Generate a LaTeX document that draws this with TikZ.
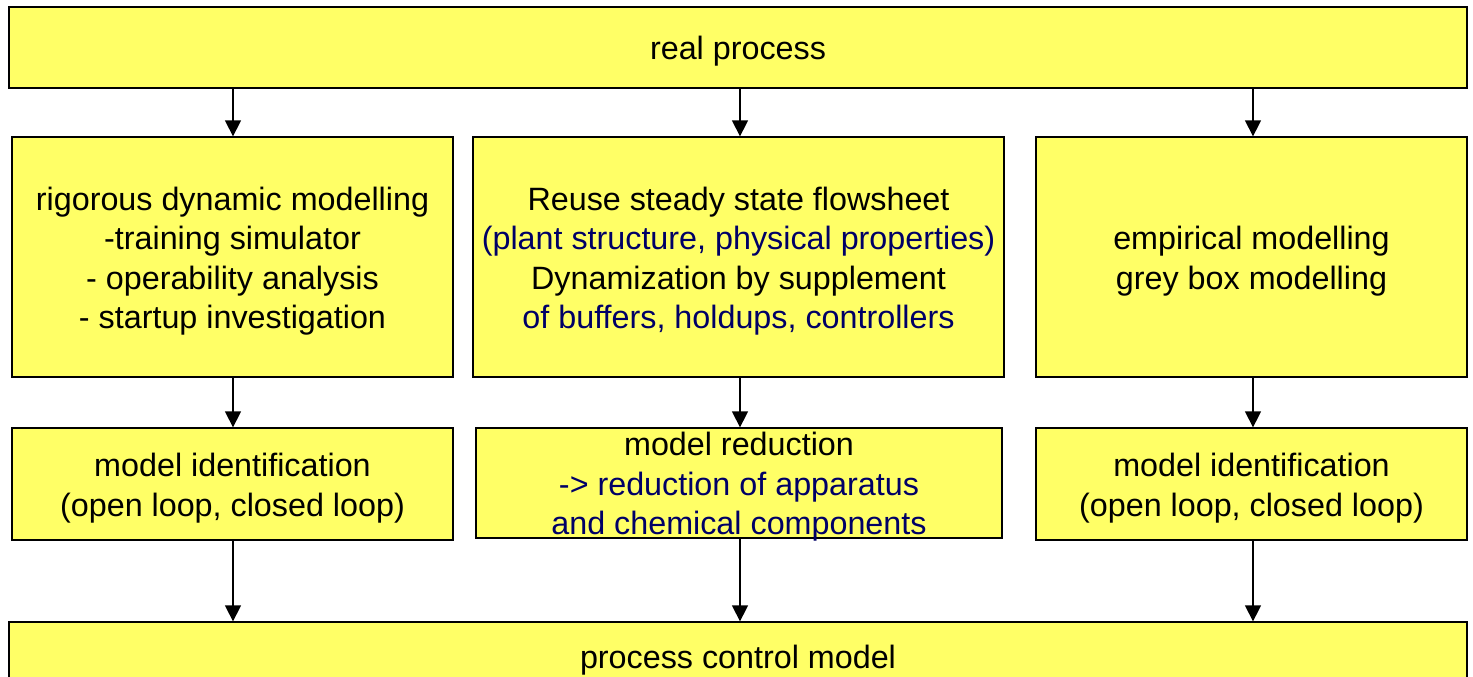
\documentclass[tikz,border=0pt]{standalone}
\usepackage{fontspec}
\setmainfont{Liberation Sans}
\usetikzlibrary{arrows.meta}
\definecolor{boxfill}{HTML}{FFFF66}
\definecolor{navytext}{HTML}{000066}
\tikzset{
  stagebox/.style={draw=black, line width=1.3pt, fill=boxfill, inner sep=0pt},
  boxtext/.style={align=center, inner sep=0pt, yshift=-4pt,
    font=\fontsize{32.3}{39.5}\selectfont},
  flow/.style={line width=1.4pt, -{Triangle[width=16pt,length=16pt]}},
}
\begin{document}
\begin{tikzpicture}[x=1pt, y=-1pt]
\useasboundingbox[fill=white] (0,0) rectangle (1473,677);

% source and sink
\node[stagebox, minimum width=1458pt, minimum height=81pt] (real) at (738,47.5) {};
\node[boxtext] (realtxt) at (real.center) {real process};
\node[stagebox, minimum width=1458pt, minimum height=68pt] (pcm) at (738,656) {};
\node[boxtext] (pcmtxt) at (pcm.center) {process control model};

% modelling approaches
\node[stagebox, minimum width=441pt, minimum height=240pt] (rig) at (232.5,257) {};
\node[boxtext] (rigtxt) at (rig.center)
  {rigorous dynamic modelling\\-training simulator\\- operability analysis\\- startup investigation};
\node[stagebox, minimum width=531pt, minimum height=240pt] (reuse) at (738.5,257) {};
\node[boxtext] (reusetxt) at (reuse.center)
  {Reuse steady state flowsheet\\\textcolor{navytext}{(plant structure, physical properties)}\\Dynamization by supplement\\\textcolor{navytext}{of buffers, holdups, controllers}};
\node[stagebox, minimum width=431pt, minimum height=240pt] (emp) at (1251.5,257) {};
\node[boxtext] (emptxt) at (emp.center) {empirical modelling\\grey box modelling};

% derived models
\node[stagebox, minimum width=441pt, minimum height=112pt] (idl) at (232.5,484) {};
\node[boxtext] (idltxt) at (idl.center) {model identification\\(open loop, closed loop)};
\node[stagebox, minimum width=526pt, minimum height=110pt] (red) at (739,483) {};
\node[boxtext] (redtxt) at (red.center)
  {model reduction\\\textcolor{navytext}{-> reduction of apparatus}\\\textcolor{navytext}{and chemical components}};
\node[stagebox, minimum width=431pt, minimum height=112pt] (idr) at (1251.5,484) {};
\node[boxtext] (idrtxt) at (idr.center) {model identification\\(open loop, closed loop)};

% connectors
\draw[flow] (real.south -| 233,0) -- (rig.north -| 233,0);
\draw[flow] (real.south -| 740,0) -- (reuse.north -| 740,0);
\draw[flow] (real.south -| 1253,0) -- (emp.north -| 1253,0);
\draw[flow] (rig.south -| 233,0) -- (idl.north -| 233,0);
\draw[flow] (reuse.south -| 740,0) -- (red.north -| 740,0);
\draw[flow] (emp.south -| 1253,0) -- (idr.north -| 1253,0);
\draw[flow] (idl.south -| 233,0) -- (pcm.north -| 233,0);
\draw[flow] (red.south -| 740,0) -- (pcm.north -| 740,0);
\draw[flow] (idr.south -| 1253,0) -- (pcm.north -| 1253,0);
\end{tikzpicture}
\end{document}
